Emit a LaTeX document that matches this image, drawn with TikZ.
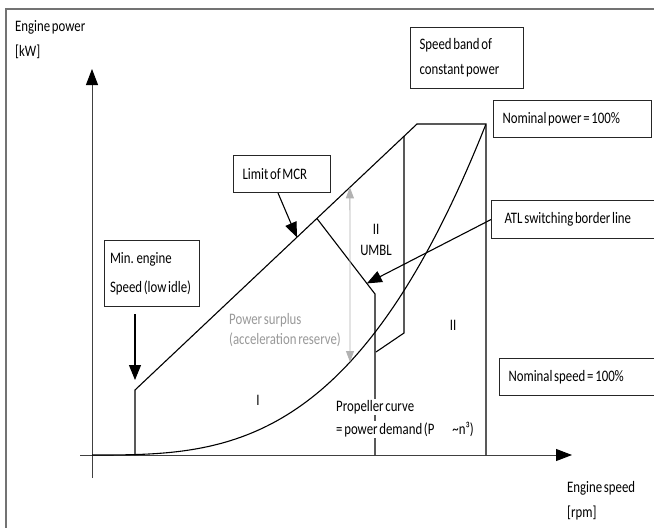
\documentclass[tikz,border=0pt]{standalone}
\usepackage{fontspec}
\setmainfont{Carlito}[FakeStretch=0.8, WordSpace=0.6]
\usetikzlibrary{arrows.meta,calc}
% one line of box text, set with the font's own interword space
\newcommand\boxline[1]{\mbox{\spaceskip=0pt\xspaceskip=0pt #1}}
\begin{document}
\begin{tikzpicture}[x=1pt,y=-1pt,
  font=\fontsize{16}{25}\selectfont,
  curve/.style={line width=1.1pt, black},
  axis/.style={line width=0.9pt, black!75},
  axistip/.style={-{Triangle[length=16pt,width=12pt,color=black]}},
  box/.style={draw=black!85, line width=1.1pt, anchor=north west, align=left,
    inner xsep=9pt, inner ysep=0pt},
  callout/.style={line width=1.1pt, black, -{Triangle[length=15pt,width=12pt]}},
  span/.style={line width=0.8pt, black!30,
    {Triangle[length=11pt,width=8pt]}-{Triangle[length=11pt,width=8pt]}},
  lbl/.style={inner sep=0pt, anchor=base west},
  region/.style={inner sep=0pt},
]
\clip (0,0) rectangle (654,528);
\fill[white] (0,0) rectangle (654,528);

% outer frame
\draw[black!55, line width=1.2pt] (6,540) -- (6,9) -- (670,9);

% key points of the diagram
\coordinate (O) at (92,455);
\coordinate (ytop) at (92,69);
\coordinate (ybot) at (92,478);
\coordinate (xleft) at (80,455);
\coordinate (xright) at (572,455);
\coordinate (idle) at (135,455);
\coordinate (idletop) at (135,390);
\coordinate (mcrtop) at (417,124);
\coordinate (nomP) at (486,124);
\coordinate (nomN) at (486,455);
\coordinate (b1) at ($(idletop)!0.954!(mcrtop)$);
\coordinate (b2) at (404,333);
\coordinate (b3) at (376,352);
\coordinate (u1) at ($(idletop)!0.645!(mcrtop)$);
\coordinate (u2) at (375,294);
\coordinate (u3) at (375,455);
\coordinate (atltip) at ($(u1)!0.86!(u2)$);
\coordinate (mcrpt) at ($(idletop)!0.574!(mcrtop)$);
\coordinate (g1) at ($(idletop)!0.762!(mcrtop)$);
\coordinate (g2) at (350,362);

% axes
\draw[axis, axistip] (ybot) -- (ytop);
\draw[axis, axistip] (xleft) -- (xright);

% operating envelope
\draw[curve] (idle) -- (idletop) -- (mcrtop) -- (nomP) -- (nomN);
\draw[curve] (b1) -- (b2) -- (b3);
\draw[curve] (u1) -- (u2) -- (u3);
% propeller curve P ~ n^3
\draw[curve] plot[domain=0:1, samples=80] ({92+394*\x},{455-331*\x*\x*\x});

% acceleration reserve
\draw[span] (g1) -- (g2);

% axis labels
\node[lbl] (yl1) at (15,31) {Engine power};
\node[lbl] (yl2) at (15,56) {[kW]};
\node[lbl] (xl1) at (567,492) {Engine speed};
\node[lbl] (xl2) at (567,517) {[rpm]};

% boxed annotations
\node[box, text width=95pt, minimum height=61pt] (band) at (410,27) {\boxline{Speed band of}\\\boxline{constant power}};
\node[box, text width=140pt, minimum height=37pt] (nompow) at (493,100) {\boxline{Nominal power = 100\%}};
\node[box, text width=162pt, minimum height=38pt, inner xsep=13pt] (atl) at (491,200) {\boxline{ATL switching border line}};
\node[box, text width=157pt, minimum height=37pt] (nomspd) at (499,358) {\boxline{Nominal speed = 100\%}};
\node[box, text width=79pt, minimum height=37pt] (mcr) at (233,155) {\boxline{Limit of MCR}};
\node[box, text width=84pt, minimum height=66pt, inner xsep=5.5pt] (minidle) at (104,240) {\boxline{Min. engine}\\[4pt]\boxline{Speed (low idle)}};

% callout arrows
\draw[callout, shorten >=10pt] (minidle.south -| idle) ++(0,7) -- (idletop);
\draw[callout] ([xshift=-4pt]mcr.south) -- (mcrpt);
\draw[callout] (atl.west) -- (atltip);

% free labels
\node[lbl, text=black!40] (ps1) at (229,324) {Power surplus};
\node[lbl, text=black!40] (ps2) at (229,344) {(acceleration reserve)};
\node[lbl, fill=white, inner sep=1pt] (pc1) at (335,411) {Propeller curve};
\node[lbl, fill=white, inner sep=1pt] (pc2) at (335,434) {= power demand (P\hspace{18pt}\textasciitilde n³)};

% operating regions
\node[region] (r1) at (258,400) {I};
\node[region] (r2) at (453,325) {II};
\node[region] (r3) at (376,229) {II};
\node[region] (r4) at (376,250) {UMBL};
\end{tikzpicture}
\end{document}
